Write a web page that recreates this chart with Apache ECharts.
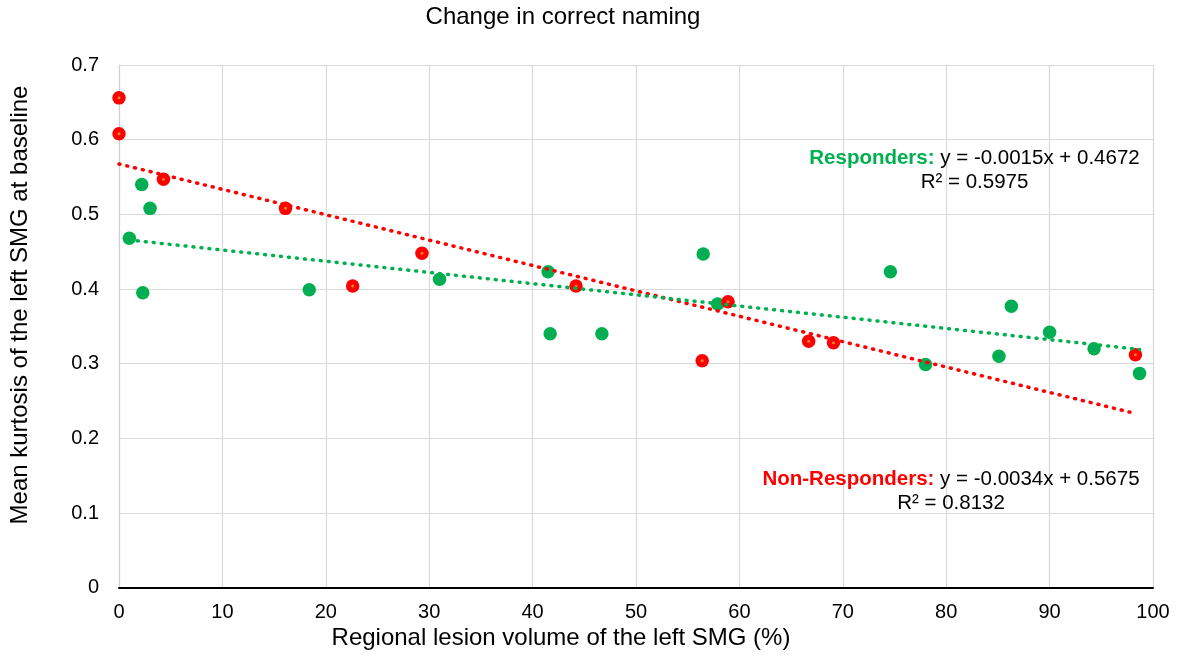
<!DOCTYPE html>
<html>
<head>
<meta charset="utf-8">
<script src="https://cdn.jsdelivr.net/npm/echarts@6/dist/echarts.min.js"></script>
<style>
html,body{margin:0;padding:0;background:#fff;}
#c{width:1178px;height:659px;}
</style>
</head>
<body>
<div id="c"></div>
<script>
// Responders (green) data
const respX = [1.0, 2.2, 3.0, 2.3, 18.4, 31.0, 41.5, 41.7, 46.7, 56.5, 57.9, 74.6, 78.0, 85.1, 86.3, 90.0, 94.3, 98.7];
const respY = [0.468, 0.540, 0.508, 0.395, 0.399, 0.413, 0.423, 0.340, 0.340, 0.447, 0.380, 0.423, 0.299, 0.310, 0.377, 0.342, 0.320, 0.287];
// Non-responders (red) data
const nonX = [0, 0, 4.3, 16.1, 22.6, 29.3, 44.2, 56.4, 58.9, 66.7, 69.1, 98.3];
const nonY = [0.656, 0.608, 0.547, 0.508, 0.404, 0.448, 0.404, 0.304, 0.383, 0.330, 0.328, 0.312];
// Trendline equations as printed on the chart
const respTrend = {slope: -0.0015, intercept: 0.4672, r2: '0.5975'};
const nonTrend = {slope: -0.0034, intercept: 0.5675, r2: '0.8132'};
const xTicks = [0, 10, 20, 30, 40, 50, 60, 70, 80, 90, 100];
const yTicks = [0, 0.1, 0.2, 0.3, 0.4, 0.5, 0.6, 0.7];

const FONT = '"Liberation Sans", Arial, sans-serif';
const GREEN = '#00B050', RED = '#FF0000';

function pts(xs, ys){ return xs.map((x,i)=>[x, ys[i]]); }
function trend(xs, t){
  const a = Math.min(...xs), b = Math.max(...xs);
  return [[a, t.slope*a + t.intercept], [b, t.slope*b + t.intercept]];
}
function fmtEq(t){
  return 'y = ' + t.slope.toFixed(4) + 'x + ' + t.intercept.toFixed(4);
}

const chart = echarts.init(document.getElementById('c'), null, {renderer:'canvas'});
const option = {
  animation: false,
  backgroundColor: '#fff',
  textStyle: {fontFamily: FONT},
  grid: {left: 119, right: 25, top: 65, bottom: 71.3, containLabel: false},
  xAxis: {
    type: 'value', min: xTicks[0], max: xTicks[xTicks.length-1], interval: 10,
    axisLine: {show: true, onZero: false, lineStyle: {color: '#000', width: 2}},
    axisTick: {show: false},
    axisLabel: {color: '#000', fontSize: 20, fontFamily: FONT, margin: 15},
    splitLine: {show: true, lineStyle: {color: '#d9d9d9', width: 1.2}}
  },
  yAxis: {
    type: 'value', min: yTicks[0], max: yTicks[yTicks.length-1], interval: 0.1,
    axisLine: {show: true, lineStyle: {color: '#d0d0d0', width: 1.2}},
    axisTick: {show: false},
    axisLabel: {color: '#000', fontSize: 20, fontFamily: FONT, margin: 20,
      formatter: v => String(+v.toFixed(1))},
    splitLine: {show: true, lineStyle: {color: '#d9d9d9', width: 1.2}}
  },
  series: [
    {type: 'scatter', name: 'Responders', data: pts(respX, respY), symbol: 'circle', symbolSize: 13.5,
     itemStyle: {color: GREEN, opacity: 1}, z: 3},
    {type: 'scatter', name: 'Non-Responders', data: pts(nonX, nonY), symbol: 'circle', symbolSize: 13.5,
     itemStyle: {color: RED, opacity: 1}, z: 4},
    {type: 'scatter', data: pts(respX, respY), symbolSize: 2, silent: true,
     itemStyle: {color: '#3a7ab0'}, z: 5},
    {type: 'scatter', data: pts(nonX, nonY), symbolSize: 3, silent: true,
     itemStyle: {color: '#f0a030'}, z: 5},
    {type: 'line', data: trend(nonX, nonTrend), symbol: 'none', silent: true,
     lineStyle: {color: RED, width: 3.5, type: [1, 7], cap: 'round'}, z: 6},
    {type: 'line', data: trend(respX, respTrend), symbol: 'none', silent: true,
     lineStyle: {color: GREEN, width: 3.5, type: [1, 7], cap: 'round'}, z: 7}
  ],
  graphic: [
    {type: 'text', x: 563, y: 17, z: 10,
     style: {text: 'Change in correct naming', fill: '#000', font: '24px ' + FONT, align: 'center', verticalAlign: 'middle'}},
    {type: 'text', x: 561, y: 638, z: 10,
     style: {text: 'Regional lesion volume of the left SMG (%)', fill: '#000', font: '24px ' + FONT, align: 'center', verticalAlign: 'middle'}},
    {type: 'text', x: 20, y: 305, rotation: Math.PI/2, z: 10,
     style: {text: 'Mean kurtosis of the left SMG at baseline', fill: '#000', font: '24px ' + FONT, align: 'center', verticalAlign: 'middle'}},
    {type: 'text', x: 974.5, y: 146, z: 10,
     style: {
       text: '{g|Responders:}{n| ' + fmtEq(respTrend) + '}\n{n|R² = ' + respTrend.r2 + '}',
       align: 'center', verticalAlign: 'top',
       rich: {
         g: {fill: GREEN, fontWeight: 'bold', fontSize: 20.5, fontFamily: FONT, lineHeight: 24},
         n: {fill: '#000', fontSize: 20.5, fontFamily: FONT, lineHeight: 24}
       }
     }},
    {type: 'text', x: 951, y: 467, z: 10,
     style: {
       text: '{r|Non-Responders:}{n| ' + fmtEq(nonTrend) + '}\n{n|R² = ' + nonTrend.r2 + '}',
       align: 'center', verticalAlign: 'top',
       rich: {
         r: {fill: RED, fontWeight: 'bold', fontSize: 20.5, fontFamily: FONT, lineHeight: 24},
         n: {fill: '#000', fontSize: 20.5, fontFamily: FONT, lineHeight: 24}
       }
     }}
  ]
};
chart.setOption(option);
</script>
</body>
</html>
